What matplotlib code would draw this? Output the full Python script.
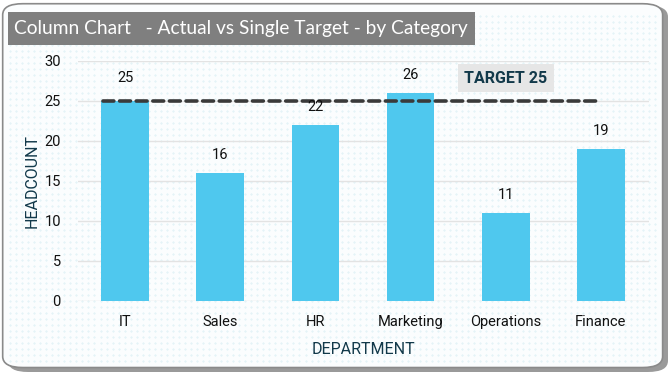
import matplotlib
matplotlib.use("Agg")
import matplotlib.pyplot as plt
from matplotlib.patches import FancyBboxPatch, Rectangle
import numpy as np

categories = ["IT", "Sales", "HR", "Marketing", "Operations", "Finance"]
headcount = [25, 16, 22, 26, 11, 19]
target = 25
yticks = [0, 5, 10, 15, 20, 25, 30]

narrow = ["Liberation Sans Narrow", "Roboto", "DejaVu Sans"]
title_font = ["Lato", "Open Sans", "DejaVu Sans"]
teal = "#12394a"

fig = plt.figure(figsize=(6.7, 3.72), dpi=100)
fig.patch.set_facecolor("white")

# shadow and border
fig.patches.append(FancyBboxPatch((0.012, 0.0), 0.985, 0.985, boxstyle="round,pad=0,rounding_size=0.03",
                                  transform=fig.transFigure, facecolor="#9a9a9a", edgecolor="none", zorder=0))
fig.patches.append(FancyBboxPatch((0.004, 0.012), 0.985, 0.978, boxstyle="round,pad=0,rounding_size=0.03",
                                  transform=fig.transFigure, facecolor="#fbfdfe", edgecolor="#8a8a8a",
                                  linewidth=1.2, zorder=1))

# dotted background pattern
xs, ys = np.meshgrid(np.arange(0.015, 0.985, 0.009), np.arange(0.03, 0.97, 0.016))
fig.add_artist(plt.Line2D(xs.ravel(), ys.ravel(), linestyle="none", marker=".", markersize=0.7,
                          color="#d3ebf2", transform=fig.transFigure, zorder=1.5))

# title box
fig.patches.append(Rectangle((8 / 670, 1 - 45 / 372), (475 - 8) / 670, 33 / 372, transform=fig.transFigure,
                             facecolor="#7f7f7f", edgecolor="none", zorder=2))
fig.text(14 / 670, 1 - 28.5 / 372, "Column Chart   - Actual vs Single Target - by Category", color="white",
         fontsize=13.8, family=title_font, va="center", ha="left", zorder=3)

ax = fig.add_axes([77.5 / 670, 1 - 301 / 372, (648.5 - 77.5) / 670, (301 - 61) / 372])
ax.set_facecolor("none")
ax.set_zorder(4)
x = np.arange(len(categories))
bars = ax.bar(x, headcount, width=0.5, color="#4fc8ee", zorder=3)
for xi, v in zip(x, headcount):
    off = 2.9 if v == target else 2.25
    ax.text(xi, v + off, str(v), ha="center", va="center", fontsize=10.5, family=narrow, color="#111111", zorder=5)

ax.plot([-0.23, 4.97], [target, target], linestyle=(0, (3, 1.6)), color="#3a3a3a", linewidth=2.6,
        dash_capstyle="round", zorder=4)
ax.text(4.0, 27.85, "TARGET 25", ha="center", va="center", fontsize=11.5, fontweight="bold",
        color=teal, family=["Roboto", "DejaVu Sans"], zorder=5,
        bbox=dict(boxstyle="square,pad=0.4", facecolor="#e6e6e6", edgecolor="none"))

ax.set_xlim(-0.5, 5.5)
ax.set_ylim(0, 30)
ax.set_yticks(yticks)
ax.set_xticks(x)
ax.set_xticklabels(categories, family=narrow, fontsize=10.5, color="#111111")
ax.set_yticklabels([str(t) for t in yticks], family=narrow, fontsize=10.5, color="#111111")
ax.tick_params(length=0, pad=10)
ax.tick_params(axis="y", pad=12)
ax.grid(axis="y", color="#e3e3e3", linewidth=1, zorder=0)
for s in ax.spines.values():
    s.set_visible(False)
ax.set_xlabel("DEPARTMENT", family=narrow, fontsize=11.5, color=teal)
ax.set_ylabel("HEADCOUNT", family=narrow, fontsize=11.5, color=teal)
ax.xaxis.set_label_coords(0.5, -0.172)
ax.yaxis.set_label_coords(-0.066, 0.5)

fig.savefig("out.png", dpi=100)
